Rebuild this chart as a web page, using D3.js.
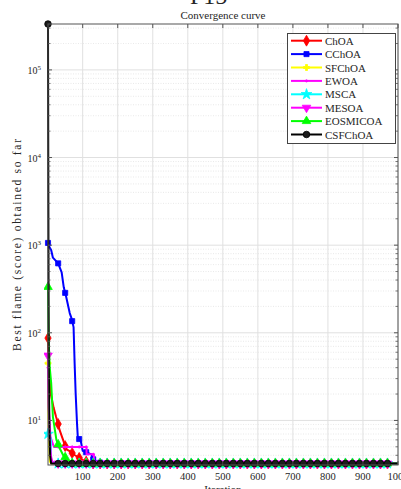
<!DOCTYPE html>
<html><head><meta charset="utf-8">
<script src="https://cdn.jsdelivr.net/npm/d3@7"></script>
<style>
body{margin:0;background:#fff;}
svg{display:block;}
text{font-family:"Liberation Serif","Times New Roman",serif;fill:#262626;}
</style>
</head><body>
<svg id="chart" width="401" height="489"></svg>
<script>
// ---------- data ----------
const xTickValues = [100,200,300,400,500,600,700,800,900,1000];
const yTickExponents = [1,2,3,4,5];
const seriesNames = ["ChOA","CChOA","SFChOA","EWOA","MSCA","MESOA","EOSMICOA","CSFChOA"];
const seriesColors = ["#ff0000","#0000ff","#ffff00","#ff00ff","#00ffff","#ff00ff","#00ff00","#000000"];
const seriesMarkers = ["diamond","square","plus","point","star","tridown","triup","circle"];

const ChOA = [[1,87],[4,35],[9,20],[17,14],[24,11],[30,9.1],[34,7.8],[44,6.0],[53,4.7],[65,4.4],[77,4.03],[91,3.72],[103,3.47],[120,3.29],[130,3.22],[1000,3.22]];
const CChOA = [[1,1060],[5,950],[10,880],[15,720],[30,620],[40,490],[46,330],[53,256],[63,168],[68,147],[74,116],[77,45],[80,20],[84,9],[86,6.5],[95,5.7],[100,4.5],[125,4.1],[130,3.6],[145,3.35],[155,3.25],[1000,3.22]];
const SFChOA = [[1,45],[2,12],[4,5],[6,3.4],[10,3.22],[1000,3.22]];
const EWOA = [[1,40],[3,14],[8,6.5],[18,4.98],[111,4.98],[111,4.1],[132,4.1],[132,3.22],[1000,3.22]];
const MSCA = [[1,7],[4,6.5],[9,6],[10,3.4],[22,3.22],[1000,3.22]];
const MESOA = [[1,55],[3,15],[6,6],[10,3.8],[15,3.22],[1000,3.22]];
const EOSMICOA = [[1,333],[3,80],[6,40],[10,27],[15,11],[25,6],[34,4.84],[44,4.03],[58,3.53],[70,3.25],[80,3.22],[1000,3.22]];
const CSFChOA = [[1,334000],[2,3000],[3,60],[5,8],[7,4],[10,3.22],[1000,3.22]];
const seriesData = [ChOA,CChOA,SFChOA,EWOA,MSCA,MESOA,EOSMICOA,CSFChOA];

const markerIters = [1].concat(d3.range(30, 971, 20));

// ---------- layout ----------
const L = 48, R = 398, T = 24, B = 465;
const svg = d3.select("#chart");
const x = d3.scaleLinear().domain([1,1000]).range([L,R]);
const y = d3.scaleLog().domain([3.1,3.34e5]).range([B,T]);

// grid
const g = svg.append("g");
const minorVals = [];
for (let e = 0; e <= 5; e++) for (let m = 2; m <= 9; m++) {
  const v = m * Math.pow(10,e);
  if (v > y.domain()[0] && v < y.domain()[1]) minorVals.push(v);
}
g.selectAll(".ymin").data(minorVals).enter().append("line")
  .attr("x1",L).attr("x2",R).attr("y1",d=>y(d)).attr("y2",d=>y(d))
  .attr("stroke","#e3e3e3").attr("stroke-width",0.8).attr("stroke-dasharray","1,1.5");
g.selectAll(".ymaj").data(yTickExponents).enter().append("line")
  .attr("x1",L).attr("x2",R).attr("y1",d=>y(Math.pow(10,d))).attr("y2",d=>y(Math.pow(10,d)))
  .attr("stroke","#e0e0e0").attr("stroke-width",1);
g.selectAll(".xmaj").data(xTickValues).enter().append("line")
  .attr("x1",d=>x(d)).attr("x2",d=>x(d)).attr("y1",T).attr("y2",B)
  .attr("stroke","#e0e0e0").attr("stroke-width",1);

// clip
svg.append("clipPath").attr("id","clip").append("rect")
  .attr("x",L-4).attr("y",T-4).attr("width",R-L+8).attr("height",B-T+8);

// series
function valueAt(data, it) {
  for (let i = 0; i < data.length-1; i++) {
    const a = data[i], b = data[i+1];
    if (it >= a[0] && it <= b[0] && b[0] > a[0]) {
      const t = (it - a[0])/(b[0]-a[0]);
      return Math.pow(10, Math.log10(a[1]) + t*(Math.log10(b[1])-Math.log10(a[1])));
    }
  }
  return data[data.length-1][1];
}
function markerPath(kind) {
  switch(kind) {
    case "diamond": return d3.symbol().type(d3.symbolDiamond).size(34)();
    case "square": return d3.symbol().type(d3.symbolSquare).size(26)();
    case "plus": return d3.symbol().type(d3.symbolCross).size(20)();
    case "point": return d3.symbol().type(d3.symbolCircle).size(4)();
    case "star": return d3.symbol().type(d3.symbolStar).size(36)();
    case "tridown": return d3.symbol().type(d3.symbolTriangle).size(32)();
    case "triup": return d3.symbol().type(d3.symbolTriangle).size(32)();
    case "circle": return d3.symbol().type(d3.symbolCircle).size(34)();
  }
}
const line = d3.line().x(d=>x(d[0])).y(d=>y(d[1]));
const plotG = svg.append("g").attr("clip-path","url(#clip)");
seriesData.forEach((data, i) => {
  const col = seriesColors[i];
  plotG.append("path").datum(data).attr("d", line)
    .attr("fill","none").attr("stroke",col).attr("stroke-width",2).attr("stroke-linejoin","round");
  const mk = seriesMarkers[i];
  const fillCol = mk === "circle" ? "#1c1c1c" : col;
  plotG.selectAll(null).data(markerIters).enter().append("path")
    .attr("d", markerPath(mk))
    .attr("transform", d => `translate(${x(d)},${y(valueAt(data,d))})` + (mk==="tridown" ? " rotate(180)" : ""))
    .attr("fill", fillCol).attr("stroke", col).attr("stroke-width", 0.8);
});

// axes box and ticks
const ax = svg.append("g").attr("stroke","#555").attr("stroke-width",1);
ax.append("rect").attr("x",L).attr("y",T).attr("width",R-L).attr("height",B-T).attr("fill","none");
xTickValues.forEach(v => {
  ax.append("line").attr("x1",x(v)).attr("x2",x(v)).attr("y1",B).attr("y2",B-4);
  ax.append("line").attr("x1",x(v)).attr("x2",x(v)).attr("y1",T).attr("y2",T+4);
});
yTickExponents.forEach(e => {
  const yy = y(Math.pow(10,e));
  ax.append("line").attr("x1",L).attr("x2",L+4).attr("y1",yy).attr("y2",yy);
  ax.append("line").attr("x1",R).attr("x2",R-4).attr("y1",yy).attr("y2",yy);
});
minorVals.forEach(v => {
  const yy = y(v);
  ax.append("line").attr("x1",L).attr("x2",L+2.5).attr("y1",yy).attr("y2",yy).attr("stroke-width",0.8);
  ax.append("line").attr("x1",R).attr("x2",R-2.5).attr("y1",yy).attr("y2",yy).attr("stroke-width",0.8);
});

// tick labels
svg.selectAll(".xl").data(xTickValues).enter().append("text")
  .attr("x",d=>x(d)).attr("y",480).attr("text-anchor","middle")
  .attr("font-size",10.5).text(d=>d);
yTickExponents.forEach(e => {
  const t = svg.append("text").attr("x",41).attr("y",y(Math.pow(10,e))+4)
    .attr("text-anchor","end").attr("font-size",10);
  t.append("tspan").text("10");
  t.append("tspan").attr("dy",-4).attr("font-size",7).text(e);
});

// titles
svg.append("text").attr("x",(L+R)/2).attr("y",19).attr("text-anchor","middle")
  .attr("font-size",11).text("Convergence curve");
svg.append("text").attr("x",(L+R)/2).attr("y",493).attr("text-anchor","middle")
  .attr("font-size",11).text("Iteration");
svg.append("text").attr("transform","translate(21,245) rotate(-90)").attr("text-anchor","middle")
  .attr("font-size",11.5).attr("textLength",212).attr("lengthAdjust","spacing")
  .text("Best flame (score) obtained so far");
svg.append("text").attr("x",190).attr("y",4).attr("font-size",24).attr("fill","#111").text("F15");

// legend
const lg = svg.append("g");
lg.append("rect").attr("x",287.5).attr("y",33.5).attr("width",108).attr("height",110)
  .attr("fill","#fff").attr("stroke","#444").attr("stroke-width",1);
seriesNames.forEach((name,i) => {
  const yy = 40.7 + i*13.4;
  lg.append("line").attr("x1",291).attr("x2",322).attr("y1",yy).attr("y2",yy)
    .attr("stroke",seriesColors[i]).attr("stroke-width",2);
  const mk = seriesMarkers[i];
  lg.append("path").attr("d",markerPath(mk))
    .attr("transform",`translate(306.5,${yy})` + (mk==="tridown" ? " rotate(180)" : ""))
    .attr("fill", mk==="circle" ? "#1c1c1c" : seriesColors[i]).attr("stroke",seriesColors[i]).attr("stroke-width",0.8);
  lg.append("text").attr("x",325).attr("y",yy+4).attr("font-size",11).text(name);
});
</script>
</body></html>
